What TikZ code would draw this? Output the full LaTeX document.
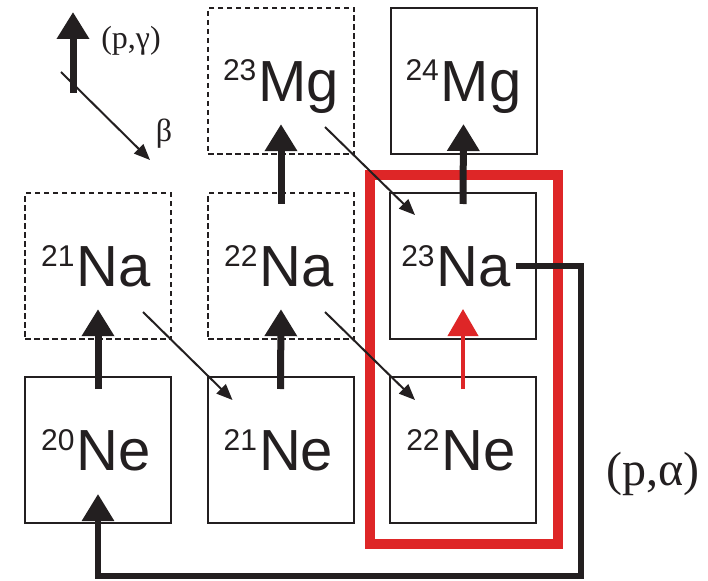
\documentclass[tikz,border=0pt]{standalone}
\usepackage{fontspec}
\setmainfont{Liberation Serif}
\newfontfamily\isofont{Liberation Sans}
\usetikzlibrary{arrows.meta,calc}
\definecolor{ink}{RGB}{35,31,32}
\definecolor{hired}{RGB}{222,38,39}
\newcommand{\iso}[2]{\raisebox{20.5pt}{\fontsize{30}{30}\selectfont #1}\kern2pt#2}
\begin{document}
\begin{tikzpicture}[x=1pt,y=-1pt,
  nucbox/.style={draw=ink, line width=2pt, minimum width=146pt, minimum height=146pt,
    inner sep=0pt, text height=41pt, text depth=0pt, text=ink,
    font=\isofont\fontsize{58}{58}\selectfont},
  unstable/.style={nucbox, line width=2.3pt, dash pattern=on 5.5pt off 3.5pt},
  pg/.style={draw=ink, line width=7pt, -{Triangle[width=31pt,length=27pt]}},
  pgred/.style={draw=hired, line width=4pt, -{Triangle[width=30pt,length=27pt]}},
  betaarr/.style={draw=ink, line width=2pt, -{Triangle[width=13pt,length=16pt]}},
  paarr/.style={draw=ink, line width=6pt, line join=miter, -{Triangle[width=31pt,length=27pt]}},
  lbl/.style={text=ink, inner sep=0pt}
]
\useasboundingbox (0,0) rectangle (708,580);
\fill[white] (0,0) rectangle (708,580);

% nuclide boxes
\node[nucbox]   (ne20) at (98,450)  {\iso{20}{Ne}\kern4pt};
\node[nucbox]   (ne21) at (280.5,450) {\iso{21}{Ne}\kern4pt};
\node[nucbox]   (ne22) at (463,450) {\iso{22}{Ne}\kern4pt};
\node[unstable] (na21) at (98,266)  {\iso{21}{Na}\kern4pt};
\node[unstable] (na22) at (281,266) {\iso{22}{Na}\kern4pt};
\node[nucbox]   (na23) at (463,266) {\iso{23}{Na}\kern14pt};
\node[unstable] (mg23) at (281,81)  {\iso{23}{Mg}};
\node[nucbox]   (mg24) at (463.5,81) {\iso{24}{Mg}};

% red highlight frame
\draw[hired, line width=10pt] (370,175) rectangle (558,544);

% (p,gamma) arrows
\draw[pg] ([yshift=-13pt]ne20.north) -- ([yshift=31pt]na21.south);
\draw[pg] ([yshift=-13pt]ne21.north) -- ([yshift=31pt]na22.south);
\draw[pg] ([yshift=-12pt]na22.north) -- ([yshift=31pt]mg23.south);
\draw[pg] ([yshift=-12pt]na23.north) -- ([yshift=31pt]mg24.south);
\draw[pgred] ([yshift=-13pt]ne22.north) -- ([yshift=31pt]na23.south);

% beta decays
\draw[betaarr] ($(na21.center)+(45,46)$) -- ($(ne21.center)+(-48,-50)$);
\draw[betaarr] ($(na22.center)+(44,46)$) -- ($(ne22.center)+(-48,-50)$);
\draw[betaarr] ($(mg23.center)+(44,46)$) -- ($(na23.center)+(-48,-51)$);

% (p,alpha) loop
\draw[paarr] ($(na23.east)+(-21,0)$) -- ++(65,0) |- ($(ne20.south)+(0,52)$) -- ([yshift=30pt]ne20.south);
\node[lbl, font=\fontsize{48}{48}\selectfont] (pa) at (653,474) {(p,α)};

% legend
\coordinate (lgbot) at (73,93);
\coordinate (lgtop) at (73,12);
\coordinate (lbs) at (61,72);
\coordinate (lbe) at (150,160);
\draw[pg] (lgbot) -- (lgtop);
\draw[betaarr] (lbs) -- (lbe);
\node[lbl, font=\fontsize{32}{32}\selectfont] (lpg) at (131,41) {(p,γ)};
\node[lbl, font=\fontsize{32}{32}\selectfont] (lb) at (164,134) {β};
\end{tikzpicture}
\end{document}
